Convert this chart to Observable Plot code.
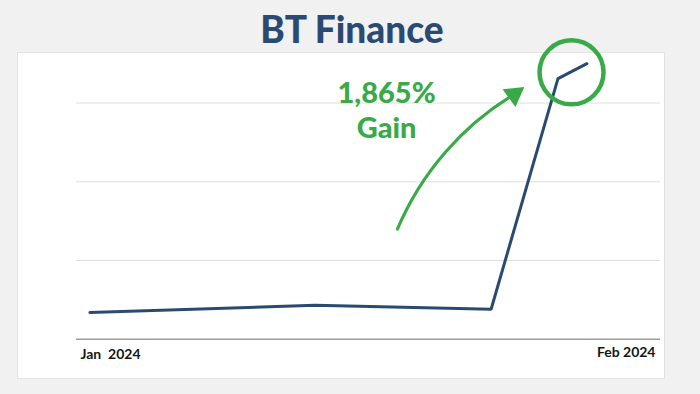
<!DOCTYPE html>
<html><head><meta charset="utf-8">
<script src="https://cdn.jsdelivr.net/npm/d3@7"></script>
<script src="https://cdn.jsdelivr.net/npm/@observablehq/plot@0.6"></script>
<style>
html,body{margin:0;padding:0;background:#f1f1f1;}
#wrap{position:relative;width:700px;height:394px;overflow:hidden;font-family:Lato,"Open Sans",sans-serif;}
#panel{position:absolute;left:17px;top:52px;width:646px;height:325px;background:#fff;border:1px solid #e3e3e3;}
#title{position:absolute;left:2px;top:11px;width:700px;text-align:center;font:900 37px/36px Lato,"Open Sans",sans-serif;color:#2b4a72;margin:0;}
#chart{position:absolute;left:0;top:0;}
</style></head><body>
<div id="wrap"><div id="panel"></div><h1 id="title">BT Finance</h1><div id="chart"></div></div>
<script>
// data
const dates = ["2024-01-01T00:00Z","2024-01-13T15:00Z","2024-01-23T12:00Z","2024-01-27T06:00Z","2024-01-28T21:00Z"];
const prices = [0.034, 0.043, 0.038, 0.331, 0.350];
const gridTicks = [0.1, 0.2, 0.3];
const axisLabels = ["Jan  2024", "Feb 2024"];
const xDomain = ["2023-12-31T06:00Z", "2024-02-02T00:00Z"];
const yDomain = [0, 0.35];
// annotation
const gainLabel = ["1,865%", "Gain"];
const gainLabelAt = {date: "2024-01-17T15:20Z", value: 0.292};
const arrowFrom = {date: "2024-01-18T06:00Z", value: 0.140};
const arrowHeadAt = {date: "2024-01-24T19:00Z", value: 0.311};
const circleAt = {date: "2024-01-28T00:15Z", value: 0.339};

const navy = "#2b4a72", green = "#3aaa49";
const P = d => new Date(d);
const data = dates.map((d, i) => ({date: P(d), value: prices[i]}));
const xd = xDomain.map(P);

const chart = Plot.plot({
  width: 700, height: 394,
  marginLeft: 76, marginRight: 40, marginTop: 63.2, marginBottom: 55.3,
  style: {background: "transparent", fontFamily: "Lato, 'Open Sans', sans-serif"},
  x: {type: "utc", domain: xd, axis: null},
  y: {domain: yDomain, axis: null},
  marks: [
    Plot.ruleY(gridTicks, {stroke: "#dedede", strokeWidth: 1}),
    Plot.ruleY([0], {stroke: "#9c9c9c", strokeWidth: 1.5}),
    Plot.line(data, {x: "date", y: "value", stroke: navy, strokeWidth: 3, strokeLinejoin: "miter"}),
    Plot.text([axisLabels[0]], {frameAnchor: "bottom-left", text: d => d, dx: 4, dy: 20, textAnchor: "start", fontSize: 14, fontWeight: 700, fill: "#151515"}),
    Plot.text([axisLabels[1]], {frameAnchor: "bottom-right", text: d => d, dx: -5, dy: 18, textAnchor: "end", fontSize: 14, fontWeight: 700, fill: "#151515"}),
    Plot.dot([circleAt], {x: d => P(d.date), y: "value", r: 32, stroke: green, strokeWidth: 4.5, fill: "none"}),
    Plot.arrow([{a: arrowFrom, b: arrowHeadAt}], {
      x1: d => P(d.a.date), y1: d => d.a.value, x2: d => P(d.b.date), y2: d => d.b.value,
      bend: 18, headLength: 0, stroke: green, strokeWidth: 3.2, strokeLinecap: "round"
    }),
    Plot.dot([arrowHeadAt], {x: d => P(d.date), y: "value", symbol: "triangle2", r: 10.5, rotate: 54, fill: green}),
    Plot.text([gainLabel.join("\n")], {
      x: () => P(gainLabelAt.date), y: () => gainLabelAt.value, text: d => d,
      fontSize: 29, fontWeight: 900, fill: green, lineHeight: 1.2, textAnchor: "middle"
    })
  ]
});
document.getElementById("chart").appendChild(chart);
</script>
</body></html>
